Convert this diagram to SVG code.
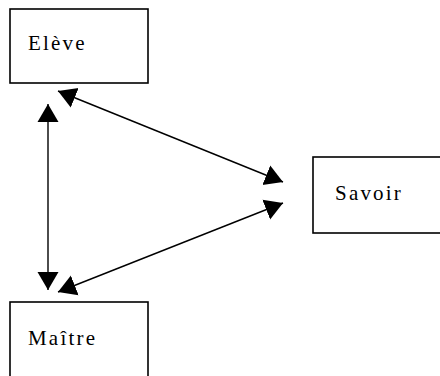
<svg xmlns="http://www.w3.org/2000/svg" width="440" height="376" viewBox="0 0 440 376">
<style>
.box{fill:#fff;stroke:#000;stroke-width:1.6}
.lbl{font-family:"Liberation Serif","Times New Roman",serif;font-size:21px;letter-spacing:2.2px;fill:#000}
.con{stroke:#000;stroke-width:1.4;fill:none;marker-start:url(#ah);marker-end:url(#ah)}
</style>
<defs>
<marker id="ah" markerUnits="userSpaceOnUse" markerWidth="20" markerHeight="22" refX="18" refY="10.5" orient="auto-start-reverse" viewBox="0 0 20 21">
<path d="M0,0 L18,10.5 L0,21 z" fill="#000"/>
</marker>
</defs>
<rect width="440" height="376" fill="#fff"/>
<g id="connectors">
<line class="con" x1="48" y1="104" x2="48" y2="290"/>
<line class="con" x1="58" y1="91" x2="283" y2="182"/>
<line class="con" x1="58" y1="292" x2="283" y2="203"/>
</g>
<g id="eleve">
<rect class="box" x="10" y="9" width="138" height="74"/>
<text class="lbl" x="28" y="50">Elève</text>
</g>
<g id="savoir">
<rect class="box" x="313" y="157" width="140" height="76"/>
<text class="lbl" x="335" y="200">Savoir</text>
</g>
<g id="maitre">
<rect class="box" x="10" y="302" width="138" height="90"/>
<text class="lbl" x="28" y="345">Maître</text>
</g>
</svg>
